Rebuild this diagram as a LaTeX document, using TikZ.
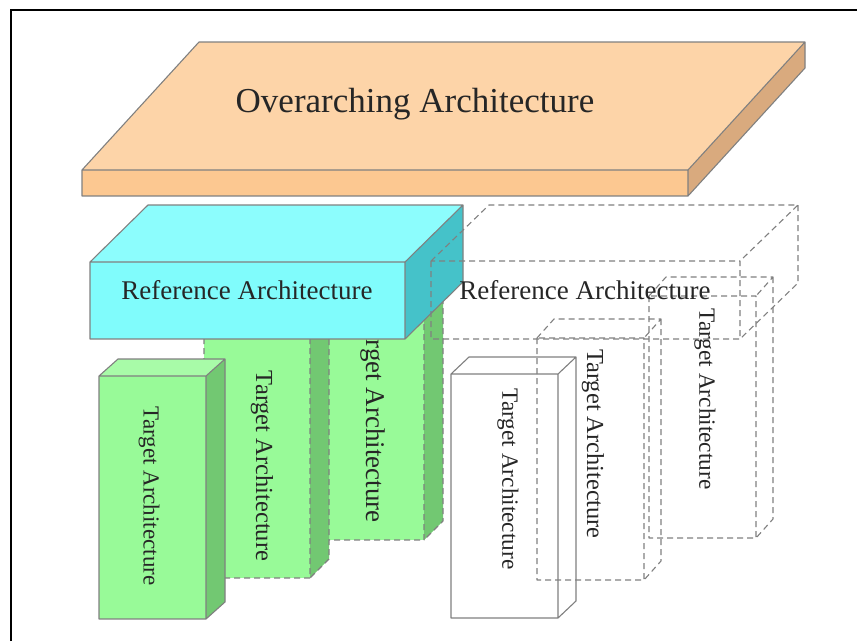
\documentclass[tikz,border=0pt]{standalone}
\usepackage{fontspec}
\setmainfont{Liberation Serif}
\definecolor{slabtop}{HTML}{FDD4A8}
\definecolor{slabfront}{HTML}{FCC891}
\definecolor{slabside}{HTML}{D9AA7E}
\definecolor{cyfront}{HTML}{80FCFC}
\definecolor{cytop}{HTML}{8CFDFD}
\definecolor{cyside}{HTML}{45C2C9}
\definecolor{grfront}{HTML}{98FA98}
\definecolor{grtop}{HTML}{A8FBA8}
\definecolor{grside}{HTML}{72C872}
\definecolor{edgecol}{HTML}{808080}
\definecolor{txtcol}{HTML}{262626}
% faces: #1 x, #2 y (front top-left), #3 w, #4 h, #5 dx, #6 dy, #7 colour prefix
\newcommand\cubefaces[7]{%
  \fill[#7front] (#1,#2) rectangle (#1+#3,#2+#4);
  \fill[#7top] (#1,#2) -- ++(#5,#6) -- ++(#3,0) -- (#1+#3,#2) -- cycle;
  \fill[#7side] (#1+#3,#2) -- ++(#5,#6) -- ++(0,#4) -- (#1+#3,#2+#4) -- cycle;
}
% edges, each drawn once: #7 line style
\newcommand\cubeedges[7]{%
  \path[#7] (#1,#2) rectangle (#1+#3,#2+#4)
    (#1,#2) -- ++(#5,#6) -- ++(#3,0) -- (#1+#3,#2)
    (#1+#3+#5,#2+#6) -- (#1+#3+#5,#2+#4+#6) -- (#1+#3,#2+#4);
}
\tikzset{
  solidedge/.style={draw=edgecol, line width=1.1pt, line join=round},
  dashedge/.style={draw=edgecol, line width=1.1pt, dash pattern=on 6pt off 4pt, line join=round},
  vlabel/.style={rotate=-90, text=txtcol, inner sep=0pt, anchor=center},
  hlabel/.style={text=txtcol, inner sep=0pt, anchor=base}
}
\begin{document}
\begin{tikzpicture}[x=1pt,y=-1pt]
\useasboundingbox (0,0) rectangle (857,641);
\fill[white] (0,0) rectangle (857,641);
% frame
\draw[line width=2.5pt] (11,641) -- (11,10) -- (857,10);

% Overarching slab
\cubefaces{82}{170}{606}{26}{117}{-128}{slab}
\cubeedges{82}{170}{606}{26}{117}{-128}{solidedge}
\node[hlabel, font=\fontsize{35}{40}\selectfont] (over) at (415,112) {Overarching Architecture};

% green target boxes (back to front)
\cubefaces{317}{297}{107}{243}{19}{-19}{gr}
\cubeedges{317}{297}{107}{243}{19}{-19}{dashedge}
\node[vlabel, font=\fontsize{27}{30}\selectfont] (g3) at (373,418) {Target Architecture};
\cubefaces{204}{338}{106}{240}{19}{-19}{gr}
\cubeedges{204}{338}{106}{240}{19}{-19}{dashedge}
\node[vlabel, font=\fontsize{24.5}{28}\selectfont] (g2) at (262,466) {Target Architecture};
\cubefaces{99}{376}{107}{243}{19}{-17}{gr}
\cubeedges{99}{376}{107}{243}{19}{-17}{solidedge}
\node[vlabel, font=\fontsize{23}{26}\selectfont] (g1) at (149,496) {Target Architecture};

% cyan reference box
\cubefaces{90}{262}{315}{77}{58}{-57}{cy}
\cubeedges{90}{262}{315}{77}{58}{-57}{solidedge}
\node[hlabel, font=\fontsize{27}{30}\selectfont] (ref1) at (247,299) {Reference Architecture};

% white target boxes
\cubeedges{649}{296}{107}{242}{17}{-19}{dashedge}
\node[vlabel, font=\fontsize{23.3}{26}\selectfont] (w3) at (705,399) {Target Architecture};
\cubeedges{537}{338}{107}{242}{17}{-19}{dashedge}
\node[vlabel, font=\fontsize{24.4}{28}\selectfont] (w2) at (593,444) {Target Architecture};
\cubeedges{451}{374}{107}{244}{18}{-17}{solidedge}
\node[vlabel, font=\fontsize{23.3}{26}\selectfont] (w1) at (508,479) {Target Architecture};

% dashed reference box
\cubeedges{431}{261}{309}{78}{58}{-56}{dashedge}
\node[hlabel, font=\fontsize{27}{30}\selectfont] (ref2) at (585,299) {Reference Architecture};
\end{tikzpicture}
\end{document}
